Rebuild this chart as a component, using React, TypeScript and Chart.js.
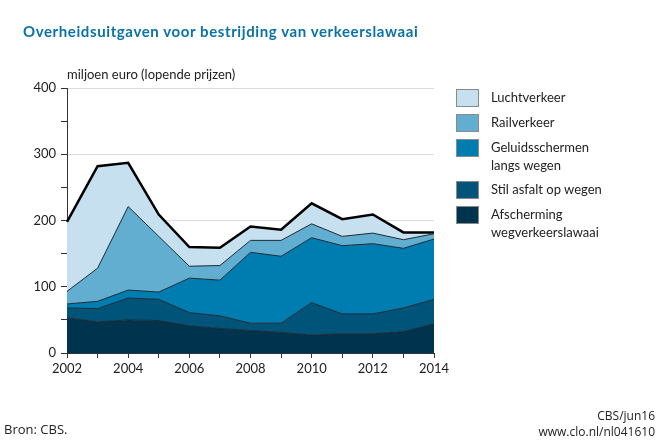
import React, { useEffect, useRef } from 'react';
import { Chart, registerables } from 'chart.js';

Chart.register(...registerables);

const years = ['2002', '2003', '2004', '2005', '2006', '2007', '2008', '2009', '2010', '2011', '2012', '2013', '2014'];

// miljoen euro, lopende prijzen
const afscherming = [53, 47, 50, 49, 41, 37, 34, 31, 27, 29, 29, 32, 44];
const stilAsfalt = [15, 20, 33, 32, 20, 19, 11, 14, 49, 30, 30, 36, 37];
const geluidsschermen = [6, 11, 12, 11, 52, 54, 107, 101, 98, 103, 106, 90, 91];
const railverkeer = [19, 50, 126, 84, 18, 22, 18, 24, 21, 14, 16, 13, 8];
const luchtverkeer = [105, 154, 66, 33, 29, 27, 21, 16, 31, 26, 28, 11, 2];

const yTicks = [0, 100, 200, 300, 400];

const legendItems = [
  { label: ['Luchtverkeer'], color: '#c6e0ef' },
  { label: ['Railverkeer'], color: '#62aed1' },
  { label: ['Geluidsschermen', 'langs wegen'], color: '#007db0' },
  { label: ['Stil asfalt op wegen'], color: '#005379' },
  { label: ['Afscherming', 'wegverkeerslawaai'], color: '#00334d' },
];

const FONT = 'Lato, "Open Sans", sans-serif';
const NARROW = '"Liberation Sans Narrow", "Open Sans", sans-serif';

const App: React.FC = () => {
  const canvasRef = useRef<HTMLCanvasElement>(null);

  useEffect(() => {
    document.body.style.margin = '0';
    const ctx = canvasRef.current?.getContext('2d');
    if (!ctx) return;

    const layer = (label: string, data: number[], color: string, fill: string, top = false) => ({
      label,
      data,
      backgroundColor: color,
      borderColor: top ? '#000000' : '#1b2a33',
      borderWidth: top ? 2.5 : 1,
      fill,
      pointRadius: 0,
      tension: 0,
    });

    const chart = new Chart(ctx, {
      type: 'line',
      data: {
        labels: years,
        datasets: [
          layer('Afscherming wegverkeerslawaai', afscherming, '#00334d', 'origin'),
          layer('Stil asfalt op wegen', stilAsfalt, '#005379', '-1'),
          layer('Geluidsschermen langs wegen', geluidsschermen, '#007db0', '-1'),
          layer('Railverkeer', railverkeer, '#62aed1', '-1'),
          layer('Luchtverkeer', luchtverkeer, '#c6e0ef', '-1', true),
        ],
      },
      options: {
        animation: false,
        responsive: true,
        maintainAspectRatio: false,
        layout: { padding: { left: 0, top: 88, right: 226, bottom: 60 } },
        plugins: {
          legend: { display: false },
          tooltip: { enabled: false },
        },
        scales: {
          x: {
            grid: { drawOnChartArea: false, tickColor: '#333', tickLength: 5 },
            border: { color: '#333' },
            ticks: {
              autoSkip: false,
              maxRotation: 0,
              color: '#222',
              font: { family: FONT, size: 13 },
              callback: (_v, i) => (i % 2 === 0 ? years[i] : ''),
            },
            afterFit: (scale: any) => {
              scale.height = 28;
            },
          },
          y: {
            stacked: true,
            min: 0,
            max: 400,
            grid: {
              color: (c: any) => (c.tick && yTicks.includes(c.tick.value) && c.tick.value > 0 ? '#dcdcdc' : 'transparent'),
              tickColor: '#333',
              tickLength: 6,
            },
            border: { color: '#333' },
            ticks: {
              stepSize: 50,
              autoSkip: false,
              padding: 5,
              color: '#222',
              font: { family: FONT, size: 13 },
              callback: (v: any) => (yTicks.includes(v) ? String(v) : ''),
            },
            afterFit: (scale: any) => {
              scale.width = 67;
            },
          },
        },
      },
    });

    return () => {
      chart.destroy();
    };
  }, []);

  return (
    <div style={{ position: 'relative', width: 660, height: 441, fontFamily: FONT, color: '#222', background: '#fff' }}>
      <canvas ref={canvasRef}></canvas>
      <div
        style={{
          position: 'absolute',
          left: 23,
          top: 22,
          fontSize: 15,
          fontWeight: 700,
          letterSpacing: 0.6,
          color: '#0a72a8',
        }}
      >
        Overheidsuitgaven voor bestrijding van verkeerslawaai
      </div>
      <div style={{ position: 'absolute', left: 67, top: 66, fontSize: 13 }}>miljoen euro (lopende prijzen)</div>
      <div style={{ position: 'absolute', left: 456, top: 89 }}>
        {legendItems.map((item) => (
          <div key={item.label[0]} style={{ display: 'flex', alignItems: 'flex-start', marginBottom: 7 }}>
            <div
              style={{
                width: 21,
                height: 16,
                background: item.color,
                border: '1px solid #8a8a8a',
                flexShrink: 0,
              }}
            />
            <div style={{ marginLeft: 12, fontSize: 13, lineHeight: '18px', marginTop: -1 }}>
              {item.label.map((l) => (
                <div key={l}>{l}</div>
              ))}
            </div>
          </div>
        ))}
      </div>
      <div style={{ position: 'absolute', left: 4, top: 420, fontSize: 13, fontFamily: NARROW }}>Bron: CBS.</div>
      <div
        style={{
          position: 'absolute',
          right: 5,
          top: 408,
          fontSize: 12,
          lineHeight: '16px',
          textAlign: 'right',
          fontFamily: NARROW,
        }}
      >
        <div>CBS/jun16</div>
        <div>www.clo.nl/nl041610</div>
      </div>
    </div>
  );
};

export default App;
